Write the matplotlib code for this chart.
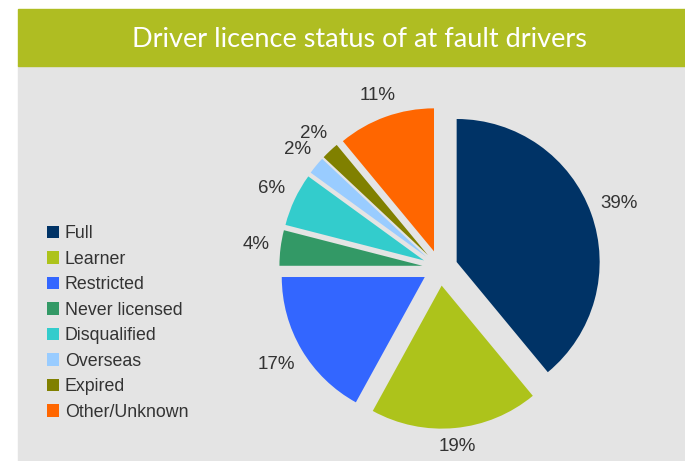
import numpy as np
import matplotlib.pyplot as plt
from matplotlib.patches import Rectangle
from matplotlib.font_manager import FontProperties

# data
categories = ["Full", "Learner", "Restricted", "Never licensed",
              "Disqualified", "Overseas", "Expired", "Other/Unknown"]
shares = [39, 19, 17, 4, 6, 2, 2, 11]
colours = ["#003366", "#adc31b", "#3366ff", "#339966",
           "#33cccc", "#99ccff", "#808000", "#ff6600"]
title = "Driver licence status of at fault drivers"

W, H = 685, 461
fig = plt.figure(figsize=(W / 100, H / 100), dpi=100)
ax = fig.add_axes([0, 0, 1, 1])

txt_font = dict(family="Liberation Sans", color="#333333")

# pie, in pixel units (y up)
r = 143
wedges, _ = ax.pie(shares, colors=colours, startangle=90, counterclock=False,
                   radius=r, center=(440, H - 268), explode=[17.7] * len(shares),
                   wedgeprops=dict(linewidth=0, zorder=3))

ax.set_xlim(0, W)
ax.set_ylim(0, H)
ax.axis("off")

# grey panel + title bar
ax.add_patch(Rectangle((18, 0), W - 18, H - 65, color="#e4e4e4", zorder=0))
ax.add_patch(Rectangle((18, H - 66), W - 18, 57, color="#afbd22", zorder=1))
ax.text(359, H - 47.5, title, ha="center", va="baseline", color="white",
        fontsize=19.5, family="Lato", zorder=2)

# percentage labels just outside each slice
fig.canvas.draw()
rend = fig.canvas.get_renderer()
for w, s in zip(wedges, shares):
    t = ax.text(0, 0, f"{s}%", ha="center", va="center", fontsize=13.5, zorder=4, **txt_font)
    bb = t.get_window_extent(rend)
    hw, hh = bb.width / 2, bb.height / 2 - 2
    ang = np.deg2rad((w.theta1 + w.theta2) / 2)
    d = w.r + 10 + hw * abs(np.cos(ang)) + hh * abs(np.sin(ang))
    t.set_position((w.center[0] + d * np.cos(ang), w.center[1] + d * np.sin(ang)))

ax.legend(wedges, categories, loc="upper left",
          bbox_to_anchor=(47 / W, 1 - 225 / H), bbox_transform=fig.transFigure,
          frameon=False, handlelength=0.7, handleheight=0.7, handletextpad=0.3,
          labelspacing=0.48, borderpad=0, borderaxespad=0,
          prop=FontProperties(family="Liberation Sans", size=12.8), labelcolor="#333333")

fig.savefig("out.png", dpi=100)
